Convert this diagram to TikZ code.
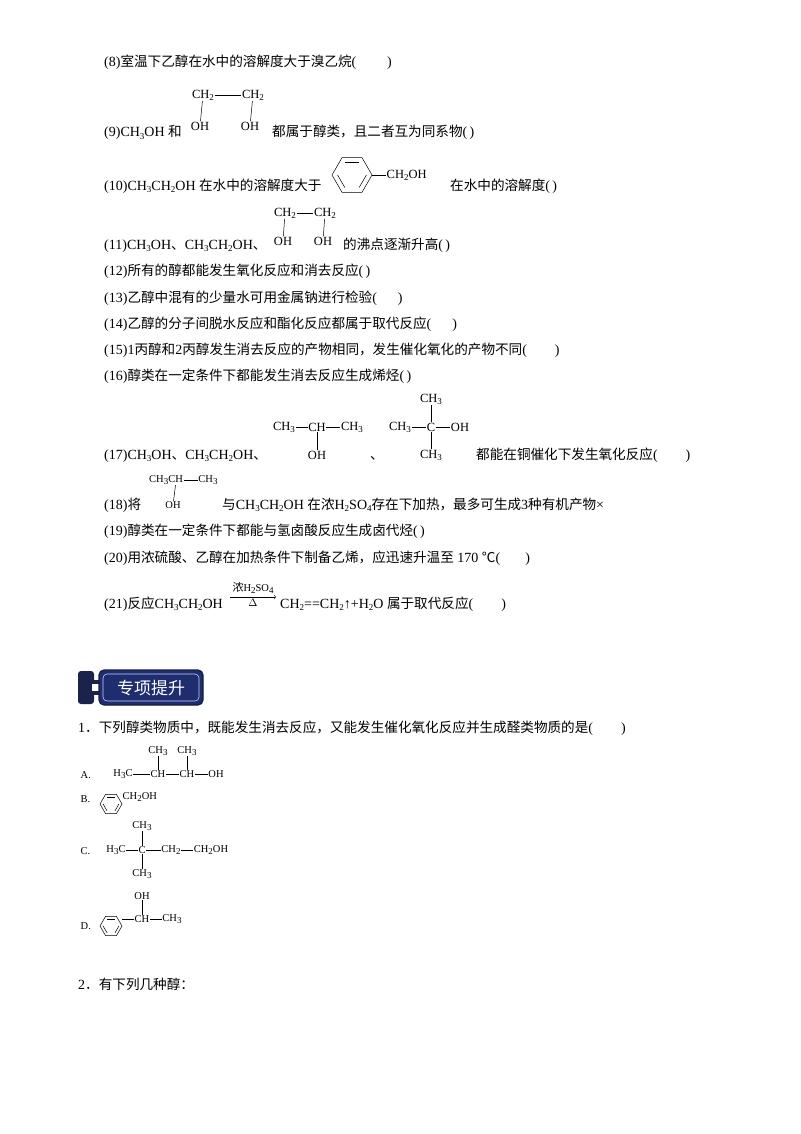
\documentclass[tikz,border=0pt]{standalone}
\usepackage{fontspec}
\usetikzlibrary{calc}
\setmainfont{Liberation Serif}
\newfontfamily\cjk{Noto Sans CJK SC}
\newcommand{\zh}[1]{{\cjk\fontsize{13.6pt}{15pt}\selectfont #1}}
\newcommand{\sbs}[1]{\raisebox{-0.35ex}{\fontsize{9pt}{9pt}\selectfont #1}}
\newcommand{\benz}[2]{%
  \draw[bd] ($(#1)+(0:#2)$) -- ($(#1)+(60:#2)$) -- ($(#1)+(120:#2)$) -- ($(#1)+(180:#2)$) -- ($(#1)+(240:#2)$) -- ($(#1)+(300:#2)$) -- cycle;
  \draw[bd] ($(#1)+(0:0.72*#2)$) -- ($(#1)+(60:0.72*#2)$);
  \draw[bd] ($(#1)+(120:0.72*#2)$) -- ($(#1)+(180:0.72*#2)$);
  \draw[bd] ($(#1)+(240:0.72*#2)$) -- ($(#1)+(300:0.72*#2)$);}
\begin{document}
\begin{tikzpicture}[x=1pt,y=-1pt,
  t/.style={anchor=base west,inner sep=0pt,font=\fontsize{14pt}{16pt}\selectfont},
  ch/.style={inner sep=0.5pt,font=\fontsize{12.5pt}{14pt}\selectfont},
  chs/.style={inner sep=0.5pt,font=\fontsize{10.5pt}{12pt}\selectfont},
  bd/.style={line width=0.5pt}]
\useasboundingbox[fill=white] (0,0) rectangle (800,1134);
\node[t] (l8) at (104,67) {(8)\zh{室温下乙醇在水中的溶解度大于溴乙烷}(\hspace{2.2em})};
% (9)
\node[t] (l9) at (104,137) {(9)CH\sbs{3}OH \zh{和}};
\node[ch] (a1) at (203,95) {CH\sbs{2}};
\node[ch] (a2) at (253,95) {CH\sbs{2}};
\node[ch] (a3) at (200,126) {OH};
\node[ch] (a4) at (250,126) {OH};
\draw[bd] (a1) -- (a2); \draw[bd] (a1) -- (a3); \draw[bd] (a2) -- (a4);
\node[t] (l9b) at (272,137) {\zh{都属于醇类，且二者互为同系物}(\,)};
% (10)
\node[t] (l10) at (104,190) {(10)CH\sbs{3}CH\sbs{2}OH \zh{在水中的溶解度大于}};
\coordinate (bz) at (352,175);
\benz{bz}{20}
\node[ch,anchor=west] (b1) at (386,175) {CH\sbs{2}OH};
\draw[bd] (372,175) -- (b1.west);
\node[t] (l10b) at (450,190) {\zh{在水中的溶解度}(\,)};
% (11)
\node[t] (l11) at (104,249) {(11)CH\sbs{3}OH\zh{、}CH\sbs{3}CH\sbs{2}OH\zh{、}};
\node[ch] (c1) at (285,213) {CH\sbs{2}};
\node[ch] (c2) at (325,213) {CH\sbs{2}};
\node[ch] (c3) at (283,241) {OH};
\node[ch] (c4) at (323,241) {OH};
\draw[bd] (c1) -- (c2); \draw[bd] (c1) -- (c3); \draw[bd] (c2) -- (c4);
\node[t] (l11b) at (343,249) {\zh{的沸点逐渐升高}(\,)};
\node[t] (l12) at (104,275) {(12)\zh{所有的醇都能发生氧化反应和消去反应}(\,)};
\node[t] (l13) at (104,302) {(13)\zh{乙醇中混有的少量水可用金属钠进行检验}(\hspace{1.5em})};
\node[t] (l14) at (104,328) {(14)\zh{乙醇的分子间脱水反应和酯化反应都属于取代反应}(\hspace{1.5em})};
\node[t] (l15) at (104,354) {(15)1\zh{丙醇和}2\zh{丙醇发生消去反应的产物相同，发生催化氧化的产物不同}(\hspace{2em})};
\node[t] (l16) at (104,380) {(16)\zh{醇类在一定条件下都能发生消去反应生成烯烃}(\,)};
% (17)
\node[t] (l17) at (104,459) {(17)CH\sbs{3}OH\zh{、}CH\sbs{3}CH\sbs{2}OH\zh{、}};
\node[ch] (d1) at (284,427) {CH\sbs{3}};
\node[ch] (d2) at (317,427) {CH};
\node[ch] (d3) at (352,427) {CH\sbs{3}};
\node[ch] (d4) at (317,455) {OH};
\draw[bd] (d1) -- (d2); \draw[bd] (d2) -- (d3); \draw[bd] (d2) -- (d4);
\node[t] (l17c) at (370,459) {\zh{、}};
\node[ch] (e1) at (400,427) {CH\sbs{3}};
\node[ch] (e2) at (431,427) {C};
\node[ch] (e3) at (460,427) {OH};
\node[ch] (e4) at (431,399) {CH\sbs{3}};
\node[ch] (e5) at (431,455) {CH\sbs{3}};
\draw[bd] (e1) -- (e2); \draw[bd] (e2) -- (e3); \draw[bd] (e2) -- (e4); \draw[bd] (e2) -- (e5);
\node[t] (l17b) at (476,459) {\zh{都能在铜催化下发生氧化反应}(\hspace{2em})};
% (18)
\node[t] (l18) at (104,509) {(18)\zh{将}};
\node[chs] (f1) at (166,480) {CH\sbs{3}CH};
\node[chs] (f2) at (208,480) {CH\sbs{3}};
\node[chs] (f3) at (173,505) {OH};
\draw[bd] (f1) -- (f2); \draw[bd] (f1.south east)++(-8,0) -- (f3);
\node[t] (l18b) at (222,509) {\zh{与}CH\sbs{3}CH\sbs{2}OH \zh{在浓}H\sbs{2}SO\sbs{4}\zh{存在下加热，最多可生成}3\zh{种有机产物}×};
\node[t] (l19) at (104,535) {(19)\zh{醇类在一定条件下都能与氢卤酸反应生成卤代烃}(\,)};
\node[t] (l20) at (104,562) {(20)\zh{用浓硫酸、乙醇在加热条件下制备乙烯，应迅速升温至} 170 \zh{℃}(\hspace{1.8em})};
% (21)
\node[t] (l21) at (104,608) {(21)\zh{反应}CH\sbs{3}CH\sbs{2}OH};
\coordinate (ar1) at (230,597); \coordinate (ar2) at (276,597);
\draw[bd,->] (ar1) -- (ar2);
\node[chs,above] (cond) at (253,594) {\zh{\fontsize{11pt}{12pt}\selectfont 浓}H\sbs{2}SO\sbs{4}};
\node[chs,below] (heat) at (253,598) {$\Delta$};
\node[t] (l21b) at (280,608) {CH\sbs{2}==CH\sbs{2}↑+H\sbs{2}O \zh{属于取代反应}(\hspace{2em})};
% banner
\fill[rounded corners=3pt,fill={rgb,255:red,25;green,35;blue,75}] (78,671) rectangle (94,704);
\fill[fill={rgb,255:red,25;green,35;blue,75}] (90,680) rectangle (102,695);
\fill[white] (92,684) rectangle (102,691);
\draw[rounded corners=5pt,fill={rgb,255:red,30;green,45;blue,110},draw={rgb,255:red,20;green,30;blue,70},line width=1.2pt] (99,670) rectangle (203,705);
\draw[rounded corners=4pt,draw=white!80!blue,line width=0.6pt] (103,674) rectangle (199,701);
\node[inner sep=0pt,text=white] (ban) at (151,688) {\cjk\fontsize{17pt}{18pt}\selectfont 专项提升};
% Q1
\node[t] (q1) at (78,732) {1\zh{．下列醇类物质中，既能发生消去反应，又能发生催化氧化反应并生成醛类物质的是}(\hspace{2em})};
\node[chs,anchor=base west] (A) at (80,778) {A.};
\node[chs] (g1) at (123,774) {H\sbs{3}C};
\node[chs] (g2) at (158,774) {CH};
\node[chs] (g3) at (187,774) {CH};
\node[chs] (g4) at (216,774) {OH};
\node[chs] (g5) at (158,751) {CH\sbs{3}};
\node[chs] (g6) at (187,751) {CH\sbs{3}};
\draw[bd] (g1)--(g2); \draw[bd] (g2)--(g3); \draw[bd] (g3)--(g4); \draw[bd] (g2)--(g5); \draw[bd] (g3)--(g6);
\node[chs,anchor=base west] (B) at (80,802) {B.};
\coordinate (bz2) at (111,804);
\benz{bz2}{11}
\node[chs,anchor=west] (h1) at (122,797) {CH\sbs{2}OH};
\node[chs,anchor=base west] (C) at (80,854) {C.};
\node[chs] (k1) at (116,850) {H\sbs{3}C};
\node[chs] (k2) at (142,850) {C};
\node[chs] (k3) at (171,850) {CH\sbs{2}};
\node[chs] (k4) at (211,850) {CH\sbs{2}OH};
\node[chs] (k5) at (142,826) {CH\sbs{3}};
\node[chs] (k6) at (142,874) {CH\sbs{3}};
\draw[bd] (k1)--(k2); \draw[bd] (k2)--(k3); \draw[bd] (k3)--(k4); \draw[bd] (k2)--(k5); \draw[bd] (k2)--(k6);
\node[chs,anchor=base west] (D) at (80,929) {D.};
\coordinate (bz3) at (111,926);
\benz{bz3}{11}
\node[chs] (m1) at (142,919) {CH};
\node[chs] (m2) at (172,919) {CH\sbs{3}};
\node[chs] (m3) at (142,896) {OH};
\draw[bd] (122,919)--(m1); \draw[bd] (m1)--(m2); \draw[bd] (m1)--(m3);
\node[t] (q2) at (78,989) {2\zh{．有下列几种醇：}};
\end{tikzpicture}
\end{document}
